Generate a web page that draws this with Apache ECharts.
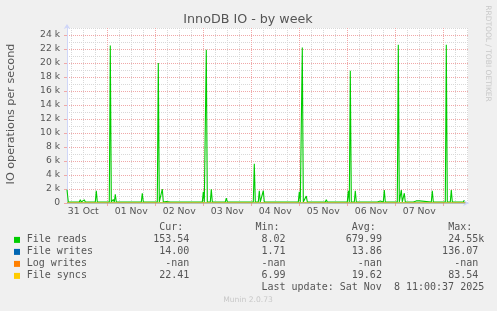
<!DOCTYPE html>
<html><head><meta charset="utf-8">
<script src="https://cdn.jsdelivr.net/npm/echarts@6/dist/echarts.min.js"></script>
<style>html,body{margin:0;padding:0;background:#F0F0F0;}#c{width:497px;height:311px;}</style>
</head><body><div id="c"></div>
<script>
// ---- text ----
const chartTitle = 'InnoDB IO - by week';
const yAxisName = 'IO operations per second';
const sideText = 'RRDTOOL / TOBI OETIKER';
const footerText = 'Munin 2.0.73';
const lastUpdate = 'Last update: Sat Nov  8 11:00:37 2025';

// ---- x axis (hours since 31 Oct 00:00) ----
const dayLabels = ['31 Oct','01 Nov','02 Nov','03 Nov','04 Nov','05 Nov','06 Nov','07 Nov'];
const dayLabelHours = [12,36,60,84,108,132,156,180];
const midnightHours = [24,48,72,96,120,144,168,192];
const minorHours = [6,12,18,30,36,42,54,60,66,78,84,90,102,108,114,126,132,138,150,156,162,174,180,186,198,204];
const xMin = 3.85, xMax = 204.35;

// ---- y axis ----
const yMax = 25000;
const yMajorTicks = [0,2000,4000,6000,8000,10000,12000,14000,16000,18000,20000,22000,24000];
const yMinorTicks = [1000,3000,5000,7000,9000,11000,13000,15000,17000,19000,21000,23000,25000];

// ---- series [hour, ops/s] ----
const fileReads = [
 [3.85,1900],[4.5,150],[10,150],[10.5,450],[11,150],[12,150],[12.5,450],[13,150],[15,150],[15.5,250],[16,150],
 [18,150],[18.5,1750],[19,150],[25,150],[25.5,22500],[26,150],[26.5,150],[27,500],[27.5,150],[28,1250],[28.5,150],
 [34,150],[34.5,250],[35,150],[36,150],[36.5,250],[37,150],[41,150],[41.5,1400],[42,150],
 [49,150],[49.5,20000],[50,150],[51,150],[51.5,2000],[52,150],[53,150],[53.5,200],[54,150],[55.5,150],[56,250],[56.5,150],
 [57.5,150],[58,250],[58.5,150],[60,150],[60.5,250],[61,150],[61.5,150],[62,250],[62.5,150],
 [71.5,150],[72,1600],[72.5,150],[73,150],[73.5,21900],[74,150],[75.5,150],[76,1950],[76.5,150],
 [83,150],[83.5,700],[84,150],
 [97,150],[97.5,5600],[98,150],[99.5,150],[100,1750],[100.5,150],[101.5,150],[102,1750],[102.5,150],
 [106,150],[106.5,400],[107,150],[108,150],[108.5,400],[109,150],
 [119.5,150],[120,1600],[120.5,150],[121,150],[121.5,22200],[122,150],[123,150],[123.5,1000],[124,150],
 [128.5,150],[129,350],[129.5,150],[130,150],[130.5,400],[131,150],[131.5,150],[132,300],[132.5,150],[133,150],[133.5,450],
 [134,150],[134.5,350],[135,150],[135.5,150],[136,400],[136.5,150],
 [144,150],[144.5,1750],[145,150],[145.5,18900],[146,150],[147.5,150],[148,1750],[148.5,150],
 [153,150],[153.5,300],[154,150],[155.5,150],[156,200],[156.5,150],[159,150],[159.5,300],[160,150],[160.5,300],[161,150],
 [162,150],[162.5,1850],[163,150],
 [169,150],[169.5,22600],[170,150],[170.5,150],[171,1850],[171.5,150],[172,150],[172.5,1400],[173,150],
 [175,150],[175.5,300],[176,150],[177,150],[177.5,300],[178,150],[178.5,300],[179,150],[179.5,150],[180,300],[180.5,150],
 [186,150],[186.5,1750],[187,150],[189.5,150],[190,250],[190.5,150],
 [193,150],[193.5,22600],[194,150],[195.5,150],[196,1850],[196.5,150],
 [198,150],[198.5,300],[199,150],[202,150],[202.5,400],[203,150]
];
const fileWrites = [
 [3.85,14],[25,14],[25.5,120],[26,14],[49,14],[49.5,110],[50,14],[73,14],[73.5,125],[74,14],[97,14],[97.5,60],[98,14],
 [121,14],[121.5,136],[122,14],[145,14],[145.5,105],[146,14],[169,14],[169.5,130],[170,14],[193,14],[193.5,128],[194,14],[203,14]
];
const logWrites = [];
const fileSyncs = [
 [3.85,22],[25,20],[25.5,80],[26,20],[49,20],[49.5,70],[50,20],[73,20],[73.5,83],[74,20],[97,20],[97.5,40],[98,20],
 [121,20],[121.5,83],[122,20],[145,20],[145.5,65],[146,20],[169,20],[169.5,78],[170,20],[193,20],[193.5,80],[194,20],[203,22]
];

// ---- legend table ----
const legendNames = ['File reads','File writes','Log writes','File syncs'];
const legendColors = ['#00cc00','#0066b3','#ff8000','#ffcc00'];
const curValues = ['153.54','14.00','-nan','22.41'];
const minValues = ['8.02','1.71','-nan','6.99'];
const avgValues = ['679.99','13.86','-nan','19.62'];
const maxValues = ['24.55k','136.07','-nan','83.54'];

const FONT = '#555555';
const GRID_GREY = '#d8d8d8';
const GRID_RED = '#f0a8a8';
const AXIS = '#CFD6F8';
const MONO = '"DejaVu Sans Mono", monospace';
const SANS = '"DejaVu Sans", sans-serif';

function fmtRow(i) {
  let mx = maxValues[i], suf = '';
  if (/k$/.test(mx)) { suf = 'k'; mx = mx.slice(0, -1); }
  return legendNames[i].padEnd(21) + curValues[i].padStart(6) + minValues[i].padStart(16) +
         avgValues[i].padStart(16) + mx.padStart(16) + suf;
}
const header = ' '.repeat(22) + 'Cur:' + 'Min:'.padStart(16) + 'Avg:'.padStart(16) + 'Max:'.padStart(16);

const graphics = [
  {type:'text', x:248, y:20, style:{text:chartTitle, fontSize:12.7, fontFamily:SANS, fill:FONT, align:'center', verticalAlign:'middle'}},
  {type:'text', x:11, y:114, rotation:Math.PI/2, style:{text:yAxisName, fontSize:11.2, fontFamily:SANS, fill:FONT, align:'center', verticalAlign:'middle'}},
  {type:'text', x:488, y:53.5, rotation:-Math.PI/2, style:{text:sideText, fontSize:7.5, fontFamily:SANS, fill:'#c8c8c8', align:'center', verticalAlign:'middle'}},
  {type:'text', x:248, y:300, style:{text:footerText, fontSize:7.6, fontFamily:SANS, fill:'#c8c8c8', align:'center', verticalAlign:'middle'}},
  {type:'text', x:26.7, y:227.5, style:{text:header, fontSize:10, fontFamily:MONO, fill:FONT, align:'left', verticalAlign:'middle'}},
  {type:'text', x:26.7 + 39*6.02, y:287.7, style:{text:lastUpdate, fontSize:10, fontFamily:MONO, fill:FONT, align:'left', verticalAlign:'middle'}}
];
legendNames.forEach((n, i) => {
  const y = 239.7 + i*12;
  graphics.push({type:'rect', shape:{x:14, y:y-2.8, width:6, height:6}, style:{fill:legendColors[i]}});
  graphics.push({type:'text', x:26.7, y:y, style:{text:fmtRow(i), fontSize:10, fontFamily:MONO, fill:FONT, align:'left', verticalAlign:'middle'}});
});

const dotted = (c) => ({color:c, type:[1,1], width:1});
const rect = {left:67, right:29, top:28, bottom:108};

const chart = echarts.init(document.getElementById('c'), null, {renderer:'canvas'});
chart.setOption({
  animation:false,
  backgroundColor:'#F0F0F0',
  grid:[
    Object.assign({show:true, backgroundColor:'#ffffff', borderWidth:0}, rect),
    Object.assign({show:false}, rect)
  ],
  xAxis:[{
    gridIndex:0, type:'value', min:xMin, max:xMax, position:'bottom',
    axisLine:{show:true, lineStyle:{color:AXIS, width:1}, symbol:['none','arrow'], symbolSize:[5,6], symbolOffset:[0,1]},
    axisTick:{show:false, customValues:minorHours},
    axisLabel:{show:true, customValues:dayLabelHours, formatter:(v)=>{const k=dayLabelHours.indexOf(Math.round(v)); return k>=0?dayLabels[k]:'';},
      fontSize:9.3, fontFamily:SANS, color:FONT, margin:4},
    splitLine:{show:true, lineStyle:dotted(GRID_GREY)}
  },{
    gridIndex:1, type:'value', min:xMin, max:xMax, position:'bottom',
    axisLine:{show:false}, axisLabel:{show:false},
    axisTick:{show:true, customValues:midnightHours, length:3, lineStyle:{color:GRID_RED}},
    splitLine:{show:true, lineStyle:dotted(GRID_RED)}
  }],
  yAxis:[{
    gridIndex:0, type:'value', min:0, max:yMax, position:'left',
    axisLine:{show:true, lineStyle:{color:AXIS, width:1}, symbol:['none','arrow'], symbolSize:[5,5], symbolOffset:[0,4]},
    axisTick:{show:false, customValues:yMinorTicks},
    axisLabel:{customValues:yMajorTicks, formatter:(v)=> v===0 ? '0' : (v/1000)+' k', fontSize:9.2, fontFamily:SANS, color:FONT, margin:7},
    splitLine:{show:true, lineStyle:dotted(GRID_GREY)}
  },{
    gridIndex:1, type:'value', min:0, max:yMax, position:'left',
    axisLine:{show:false}, axisLabel:{show:false},
    axisTick:{show:true, customValues:yMajorTicks, length:3, lineStyle:{color:GRID_RED}},
    splitLine:{show:true, lineStyle:dotted(GRID_RED)}
  }],
  series:[
    {name:'File reads', type:'line', xAxisIndex:0, yAxisIndex:0, data:fileReads, showSymbol:false, symbol:'none', lineStyle:{color:legendColors[0], width:1.1}, itemStyle:{color:legendColors[0]}, z:3},
    {name:'File writes', type:'line', xAxisIndex:0, yAxisIndex:0, data:fileWrites, showSymbol:false, symbol:'none', lineStyle:{color:legendColors[1], width:1}, z:4},
    {name:'Log writes', type:'line', xAxisIndex:0, yAxisIndex:0, data:logWrites, showSymbol:false, symbol:'none', lineStyle:{color:legendColors[2], width:1}, z:5},
    {name:'File syncs', type:'line', xAxisIndex:0, yAxisIndex:0, data:fileSyncs, showSymbol:false, symbol:'none', lineStyle:{color:legendColors[3], width:1}, z:6}
  ],
  graphic:graphics
});
</script></body></html>
